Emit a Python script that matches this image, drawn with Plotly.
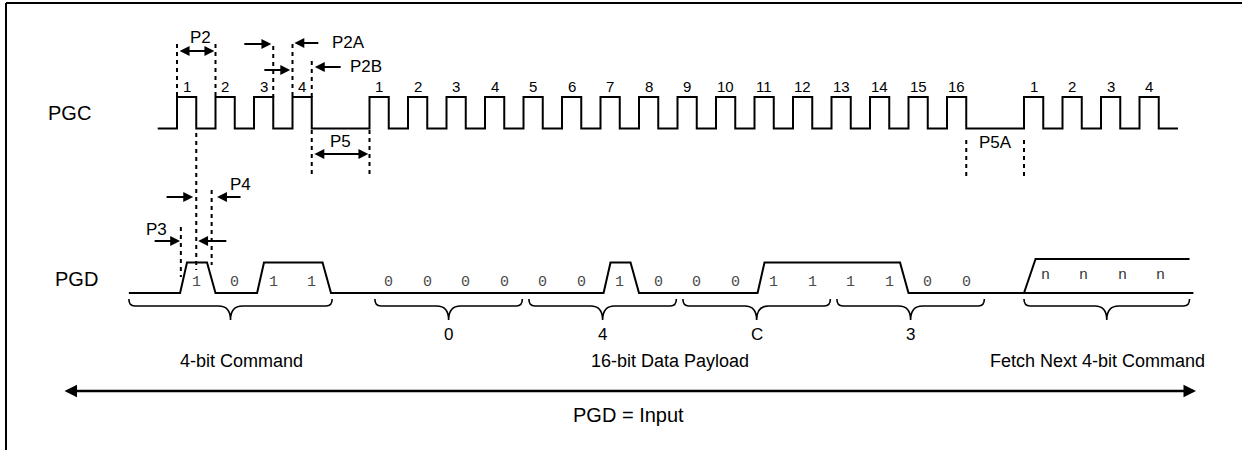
import plotly.graph_objects as go

# ---------------- data ----------------
cmd_clock_labels = ["1", "2", "3", "4"]
data_clock_labels = ["1", "2", "3", "4", "5", "6", "7", "8",
                     "9", "10", "11", "12", "13", "14", "15", "16"]
next_clock_labels = ["1", "2", "3", "4"]
cmd_bits = [1, 0, 1, 1]
data_bits = [0, 0, 0, 0, 0, 0, 1, 0, 0, 0, 1, 1, 1, 1, 0, 0]
next_bits = ["n", "n", "n", "n"]
nibble_labels = ["0", "4", "C", "3"]
section_labels = ["4-bit Command", "16-bit Data Payload", "Fetch Next 4-bit Command"]
signal_labels = ["PGC", "PGD"]
bottom_label = "PGD = Input"

# ---------------- layout constants (time in clock periods, y in px) ----------------
W, H = 1246, 450
PX0, PXP = 177.0, 38.5          # pixel of t=0, pixels per clock period
CMD_T0, DATA_T0, NEXT_T0 = 0, 5, 22
PGC_HI, PGC_LO = 97, 128.5
PGD_HI, PGD_LO, BUS_HI = 262.5, 293, 259
SANS = "Liberation Sans, Arial, sans-serif"
MONO = "Liberation Mono, Courier New, monospace"

cmd_t = [CMD_T0 + i for i in range(len(cmd_clock_labels))]
data_t = [DATA_T0 + i for i in range(len(data_clock_labels))]
next_t = [NEXT_T0 + i for i in range(len(next_clock_labels))]

fig = go.Figure()

# ---- PGC waveform ----
xs, ys = [cmd_t[0] - 0.5], [PGC_LO]
for t in cmd_t + data_t + next_t:
    xs += [t, t, t + 0.5, t + 0.5]
    ys += [PGC_LO, PGC_HI, PGC_HI, PGC_LO]
xs.append(next_t[-1] + 1.0)
ys.append(PGC_LO)
fig.add_trace(go.Scatter(x=xs, y=ys, mode="lines",
                         line=dict(color="black", width=2), hoverinfo="skip"))

# clock numbers
for labs, ts in ((cmd_clock_labels, cmd_t), (data_clock_labels, data_t), (next_clock_labels, next_t)):
    for lab, t in zip(labs, ts):
        fig.add_annotation(x=t + 0.25, y=86, text=lab, showarrow=False,
                           font=dict(family=SANS, size=15, color="black"))

# ---- PGD waveform ----
def segment_path(times, bits, start, end):
    x, y = [start], [PGD_LO]
    prev, last_one = 0, None
    for t, b in zip(times, bits):
        if b == 1 and prev == 0:
            x += [t + 0.08, t + 0.26]
            y += [PGD_LO, PGD_HI]
        if b == 0 and prev == 1:
            x += [last_one + 0.78, last_one + 1.0]
            y += [PGD_HI, PGD_LO]
        if b == 1:
            last_one = t
        prev = b
    if prev == 1:
        x += [last_one + 0.78, last_one + 1.0]
        y += [PGD_HI, PGD_LO]
    x.append(end)
    y.append(PGD_LO)
    return x, y

cx, cy = segment_path(cmd_t, cmd_bits, cmd_t[0] - 1.25, data_t[0])
dx_, dy_ = segment_path(data_t, data_bits, data_t[0], next_t[0])
px = cx + dx_ + [next_t[-1] + 1.4, None, next_t[0], next_t[0] + 0.3, next_t[-1] + 1.3]
py = cy + dy_ + [PGD_LO, None, PGD_LO, BUS_HI, BUS_HI]
fig.add_trace(go.Scatter(x=px, y=py, mode="lines",
                         line=dict(color="black", width=2), hoverinfo="skip"))

# bit labels
for t, b in list(zip(cmd_t, cmd_bits)) + list(zip(data_t, data_bits)):
    fig.add_annotation(x=t + 0.5, y=282, text=str(b), showarrow=False,
                       font=dict(family=MONO, size=15, color="#4a4a4a"))
for t, b in zip(next_t, next_bits):
    fig.add_annotation(x=t + 0.55, y=275, text=b, showarrow=False,
                       font=dict(family=MONO, size=15, color="#333333"))

# ---- braces ----
def brace(t1, t2):
    dx = 6 / PXP
    dm = 12 / PXP
    tm = (t1 + t2) / 2
    path = (f"M {t1},299 Q {t1},306 {t1+dx},306 L {tm-dm},306 Q {tm},306 {tm},320 "
            f"Q {tm},306 {tm+dm},306 L {t2-dx},306 Q {t2},306 {t2},299")
    fig.add_shape(type="path", path=path, xref="x", yref="y",
                  line=dict(color="black", width=1.6))
    return tm

cmd_mid = brace(cmd_t[0] - 1.25, cmd_t[-1] + 1.03)
for k, lab in enumerate(nibble_labels):
    t1 = data_t[4 * k] + 0.14
    t2 = data_t[4 * k + 3] + 0.97
    tm = brace(t1, t2)
    fig.add_annotation(x=tm, y=334, text=lab, showarrow=False,
                       font=dict(family=SANS, size=17, color="black"))
next_mid = brace(next_t[0], next_t[-1] + 1.3)

# section labels
sec_x = [cmd_mid + 0.28, (data_t[0] + data_t[-1] + 1) / 2 - 0.2, next_mid - 0.25]
for lab, x in zip(section_labels, sec_x):
    fig.add_annotation(x=x, y=361, text=lab, showarrow=False,
                       font=dict(family=SANS, size=18, color="black"))

# signal names
fig.add_annotation(x=-2.78, y=113, text=signal_labels[0], showarrow=False,
                   font=dict(family=SANS, size=20, color="black"))
fig.add_annotation(x=-2.6, y=279, text=signal_labels[1], showarrow=False,
                   font=dict(family=SANS, size=20, color="black"))

# ---- dashed reference lines ----
DASH = "4px,4px"
vlines = [
    (cmd_t[0], 44, 97), (cmd_t[1], 44, 97), (cmd_t[2] + 0.5, 46, 97),
    (cmd_t[3], 44, 97), (cmd_t[3] + 0.5, 61, 97),
    (cmd_t[3] + 0.5, 130, 177), (data_t[0], 130, 177),
    (data_t[-1] + 0.5, 140, 177), (next_t[0], 140, 177),
    (cmd_t[0] + 0.5, 133, 270), (cmd_t[0] + 0.9, 190, 265), (cmd_t[0] + 0.1, 227, 277),
]
for t, y0, y1 in vlines:
    fig.add_shape(type="line", x0=t, x1=t, y0=y0, y1=y1, xref="x", yref="y",
                  line=dict(color="black", width=2, dash=DASH))

# ---- timing arrows ----
def arrow(tail, head, y, both=False, width=1.8, size=1.1):
    fig.add_annotation(x=head, y=y, ax=tail, ay=y, xref="x", yref="y", axref="x", ayref="y",
                       text="", showarrow=True, arrowhead=2, arrowsize=size, arrowwidth=width,
                       arrowcolor="black", arrowside="end+start" if both else "end",
                       startarrowhead=2, startarrowsize=size, standoff=0, startstandoff=0)

def label(x, y, text, anchor="center", size=17):
    fig.add_annotation(x=x, y=y, text=text, showarrow=False, xanchor=anchor,
                       font=dict(family=SANS, size=size, color="black"))

# P2
arrow(cmd_t[0] + 0.03, cmd_t[1] - 0.03, 51, both=True)
label(cmd_t[0] + 0.6, 37, "P2")
# P2A
arrow(1.71, 2.45, 44)
arrow(3.71, 3.05, 43)
label(3.97, 42, "P2A", anchor="left")
# P2B
arrow(2.23, 2.94, 70)
arrow(4.29, 3.58, 67)
label(4.44, 66, "P2B", anchor="left")
# P5
arrow(cmd_t[3] + 0.53, data_t[0] - 0.03, 154, both=True)
label((cmd_t[3] + 0.5 + data_t[0]) / 2, 141, "P5")
# P5A
label((data_t[-1] + 0.5 + next_t[0]) / 2, 142, "P5A")
# P4
arrow(-0.31, 0.42, 197)
arrow(1.69, 1.04, 197)
label(1.64, 184, "P4")
# P3
arrow(-0.62, 0.08, 241)
arrow(1.32, 0.55, 241)
label(-0.52, 229, "P3")

# ---- bottom PGD = Input arrow ----
arrow((63 - PX0) / PXP, (1196 - PX0) / PXP, 391, both=True, width=2.5, size=1.0)
fig.add_annotation(x=(628 - PX0) / PXP, y=415, text=bottom_label, showarrow=False,
                   font=dict(family=SANS, size=20, color="black"))

# ---- frame ----
fig.add_shape(type="line", xref="paper", yref="paper", x0=6 / W, x1=1242 / W,
              y0=1 - 3 / H, y1=1 - 3 / H, line=dict(color="black", width=2))
fig.add_shape(type="line", xref="paper", yref="paper", x0=6 / W, x1=6 / W,
              y0=1 - 3 / H, y1=0, line=dict(color="black", width=2))

fig.update_layout(
    width=W, height=H, margin=dict(l=0, r=0, t=0, b=0),
    paper_bgcolor="white", plot_bgcolor="white", showlegend=False,
    xaxis=dict(range=[-PX0 / PXP, (W - PX0) / PXP], visible=False, fixedrange=True),
    yaxis=dict(range=[H, 0], visible=False, fixedrange=True),
)

fig.write_html("out.html", config={"displayModeBar": False},
               post_script="document.body.style.margin='0';document.body.style.overflow='hidden';")
